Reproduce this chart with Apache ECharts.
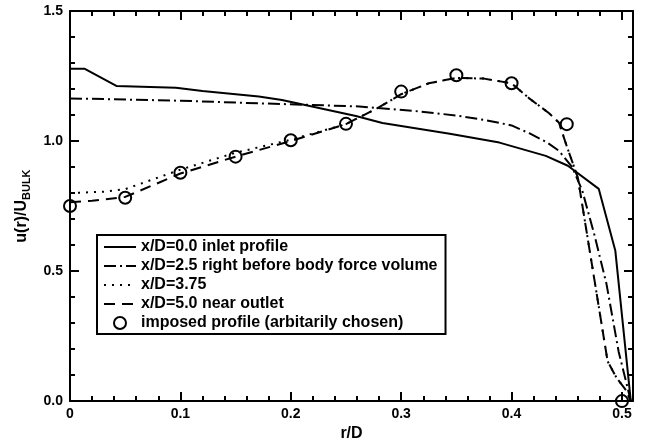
<!DOCTYPE html>
<html>
<head>
<meta charset="utf-8">
<script src="https://cdn.jsdelivr.net/npm/echarts@6/dist/echarts.min.js"></script>
<style>
html, body { margin: 0; padding: 0; background: #fff; }
#chart { width: 649px; height: 447px; }
</style>
</head>
<body>
<div id="chart"></div>
<script>
// values (r/D, u/Ubulk)
var inletR = [0, 0.013, 0.042, 0.096, 0.12, 0.171, 0.192, 0.259, 0.283, 0.344, 0.389, 0.431, 0.451, 0.479, 0.494, 0.508];
var inletU = [1.278, 1.278, 1.212, 1.205, 1.192, 1.171, 1.158, 1.096, 1.069, 1.028, 0.994, 0.943, 0.905, 0.816, 0.578, 0.0];

var beforeR = [0, 0.1, 0.171, 0.262, 0.316, 0.35, 0.377, 0.4, 0.416, 0.432, 0.443, 0.455, 0.464, 0.475, 0.486, 0.497, 0.504, 0.508];
var beforeU = [1.164, 1.155, 1.145, 1.133, 1.114, 1.098, 1.08, 1.06, 1.03, 0.995, 0.962, 0.899, 0.81, 0.64, 0.45, 0.19, 0.07, 0.0];

var midR = [0, 0.03, 0.05, 0.1, 0.15, 0.2, 0.25, 0.28, 0.3, 0.325, 0.35, 0.375, 0.4, 0.416, 0.434, 0.443, 0.45, 0.46, 0.473, 0.487, 0.495, 0.504, 0.508];
var midU = [0.80, 0.805, 0.815, 0.89, 0.955, 1.005, 1.065, 1.13, 1.18, 1.222, 1.243, 1.24, 1.222, 1.164, 1.107, 1.07, 0.98, 0.86, 0.52, 0.153, 0.09, 0.04, 0.0];

var outletR = [0, 0.02, 0.05, 0.1, 0.15, 0.2, 0.25, 0.28, 0.3, 0.325, 0.35, 0.375, 0.4, 0.416, 0.434, 0.443, 0.45, 0.46, 0.473, 0.487, 0.495, 0.504, 0.508];
var outletU = [0.765, 0.77, 0.785, 0.875, 0.94, 1.0, 1.065, 1.13, 1.18, 1.222, 1.243, 1.24, 1.222, 1.164, 1.107, 1.07, 0.98, 0.86, 0.52, 0.153, 0.09, 0.04, 0.0];

var imposedR = [0, 0.05, 0.1, 0.15, 0.2, 0.25, 0.3, 0.35, 0.4, 0.45, 0.5];
var imposedU = [0.75, 0.782, 0.878, 0.94, 1.003, 1.066, 1.19, 1.253, 1.222, 1.065, 0.0];

var xTicks = [0, 0.1, 0.2, 0.3, 0.4, 0.5];

var names = [
    'x/D=0.0 inlet profile',
    'x/D=2.5 right before body force volume',
    'x/D=3.75',
    'x/D=5.0 near outlet',
    'imposed profile (arbitarily chosen)'
];

var font = 'Liberation Sans, Arial, Helvetica, sans-serif';

function pairs(r, u) {
    return r.map(function (v, i) { return [v, u[i]]; });
}

function lineSeries(name, r, u, dash) {
    return {
        name: name,
        type: 'line',
        data: pairs(r, u),
        symbol: 'none',
        smooth: false,
        animation: false,
        color: '#000',
        lineStyle: { color: '#000', width: 2, type: dash, cap: 'butt' }
    };
}

function xAxisDef(pos, showLabel, interval, tickLen, showLine) {
    return {
        type: 'value',
        position: pos,
        min: 0,
        max: 0.51,
        interval: interval,
        axisLine: { show: showLine, onZero: false, lineStyle: { color: '#000', width: 2 } },
        axisTick: { show: true, inside: true, length: tickLen, lineStyle: { color: '#000', width: 2 } },
        splitLine: { show: false },
        axisLabel: {
            show: showLabel,
            showMaxLabel: false,
            margin: 6,
            color: '#000',
            fontFamily: font,
            fontWeight: 'bold',
            fontSize: 14,
            formatter: function (v) {
                if (xTicks.indexOf(Math.round(v * 100) / 100) < 0) return '';
                return v === 0 ? '0' : v.toFixed(1);
            }
        }
    };
}

function yAxisDef(pos, showLabel) {
    return {
        type: 'value',
        position: pos,
        min: 0,
        max: 1.5,
        interval: 0.5,
        axisLine: { show: true, onZero: false, lineStyle: { color: '#000', width: 2 } },
        axisTick: { show: true, inside: true, length: 9, lineStyle: { color: '#000', width: 2 } },
        minorTick: { show: true, splitNumber: 5, length: 5, lineStyle: { color: '#000', width: 2 } },
        splitLine: { show: false },
        minorSplitLine: { show: false },
        axisLabel: {
            show: showLabel,
            margin: 7,
            color: '#000',
            fontFamily: font,
            fontWeight: 'bold',
            fontSize: 14,
            formatter: function (v) { return v.toFixed(1); }
        }
    };
}

var chart = echarts.init(document.getElementById('chart'));

var xBottom = xAxisDef('bottom', true, 0.1, 9, true);
xBottom.name = 'r/D';
xBottom.nameLocation = 'middle';
xBottom.nameGap = 21;
xBottom.nameTextStyle = { color: '#000', fontFamily: font, fontWeight: 'bold', fontSize: 16 };

var yLeft = yAxisDef('left', true);
yLeft.name = '{a|u(r)/U}{b|BULK}';
yLeft.nameLocation = 'middle';
yLeft.nameGap = 36;
yLeft.nameTextStyle = {
    color: '#000',
    rich: {
        a: { fontFamily: font, fontWeight: 'bold', fontSize: 16, lineHeight: 22, verticalAlign: 'middle', color: '#000' },
        b: { fontFamily: font, fontWeight: 'bold', fontSize: 11, lineHeight: 11, verticalAlign: 'bottom', color: '#000' }
    }
};

var legendData = names.map(function (n, i) {
    if (i < 4) return { name: n, itemStyle: { opacity: 0 } };
    return { name: n };
});

chart.setOption({
    animation: false,
    backgroundColor: '#fff',
    grid: { left: 70, right: 16, top: 11, bottom: 40 },
    xAxis: [
        xBottom,
        xAxisDef('bottom', false, 0.02, 5, false),
        xAxisDef('top', false, 0.1, 9, true),
        xAxisDef('top', false, 0.02, 5, false)
    ],
    yAxis: [yLeft, yAxisDef('right', false)],
    legend: {
        orient: 'vertical',
        left: 97,
        top: 235,
        padding: [4, 8, 3, 6],
        itemGap: 3,
        itemWidth: 32,
        itemHeight: 12,
        selectedMode: false,
        backgroundColor: '#fff',
        borderColor: '#000',
        borderWidth: 2,
        borderRadius: 0,
        textStyle: { color: '#000', fontFamily: font, fontWeight: 'bold', fontSize: 16 },
        data: legendData
    },
    series: [
        lineSeries(names[0], inletR, inletU, 'solid'),
        lineSeries(names[1], beforeR, beforeU, [12, 4, 2, 4]),
        lineSeries(names[2], midR, midU, [2, 6]),
        lineSeries(names[3], outletR, outletU, [11, 7]),
        {
            name: names[4],
            type: 'scatter',
            data: pairs(imposedR, imposedU),
            symbol: 'circle',
            symbolSize: 12,
            clip: false,
            animation: false,
            z: 3,
            itemStyle: { color: 'rgba(255,255,255,0)', borderColor: '#000', borderWidth: 2, opacity: 1 }
        }
    ]
});
</script>
</body>
</html>
